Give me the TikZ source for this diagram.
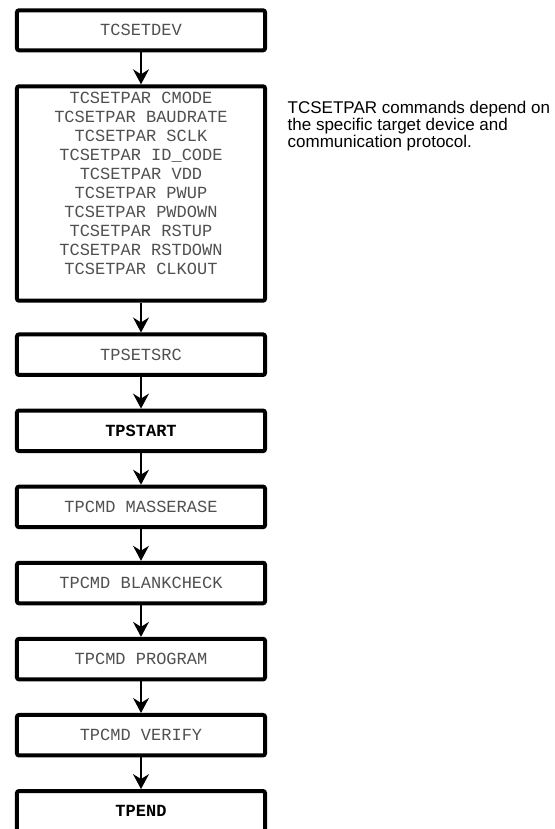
\documentclass[tikz,border=0pt]{standalone}
\usepackage{fontspec}
\setmonofont{Liberation Mono}
\setsansfont{Liberation Sans}
\usepackage{tikz}
\usetikzlibrary{arrows.meta}
\usepackage{xcolor}
\definecolor{cmdgray}{RGB}{80,80,80}

\begin{document}
\begin{tikzpicture}[
  x=1bp, y=-1bp,
  box/.style={draw, line width=4bp, rounded corners=2pt, minimum width=248bp,
              minimum height=40.5bp, inner sep=0pt, align=center,
              font=\ttfamily\fontsize{17bp}{19bp}\selectfont, text=cmdgray},
  boldbox/.style={box, font=\ttfamily\bfseries\fontsize{17bp}{19bp}\selectfont, text=black},
  flow/.style={line width=1.2bp, -{Stealth[length=15bp, width=16bp, inset=5bp]}},
]
\useasboundingbox (0,0) rectangle (555,829);
\node[box, minimum height=40bp] (dev) at (141,30.3) {TCSETDEV};
\node[box, minimum height=214.4bp] (par) at (141,193.5) {};
\node[text=cmdgray, inner sep=0pt, align=center,
      font=\ttfamily\fontsize{17bp}{19bp}\selectfont] (parlist) at (141,183.5) {
  TCSETPAR CMODE\\
  TCSETPAR BAUDRATE\\
  TCSETPAR SCLK\\
  TCSETPAR ID\_CODE\\
  TCSETPAR VDD\\
  TCSETPAR PWUP\\
  TCSETPAR PWDOWN\\
  TCSETPAR RSTUP\\
  TCSETPAR RSTDOWN\\
  TCSETPAR CLKOUT
};
\node[box] (src) at (141,354.7) {TPSETSRC};
\node[boldbox] (start) at (141,430.8) {TPSTART};
\node[box] (erase) at (141,506.9) {TPCMD MASSERASE};
\node[box] (blank) at (141,583.0) {TPCMD BLANKCHECK};
\node[box] (prog) at (141,659.1) {TPCMD PROGRAM};
\node[box] (verify) at (141,735.2) {TPCMD VERIFY};
\node[boldbox] (tpend) at (141,811.3) {TPEND};
\node[anchor=north west, inner sep=0pt, align=left,
      font=\sffamily\fontsize{17bp}{17bp}\selectfont] (note) at (287.5,100.5) {
  TCSETPAR commands depend on\\
  the specific target device and\\
  communication protocol.
};
\draw[flow] (dev) -- (par);
\draw[flow] (par) -- (src);
\draw[flow] (src) -- (start);
\draw[flow] (start) -- (erase);
\draw[flow] (erase) -- (blank);
\draw[flow] (blank) -- (prog);
\draw[flow] (prog) -- (verify);
\draw[flow] (verify) -- (tpend);
\end{tikzpicture}
\end{document}
